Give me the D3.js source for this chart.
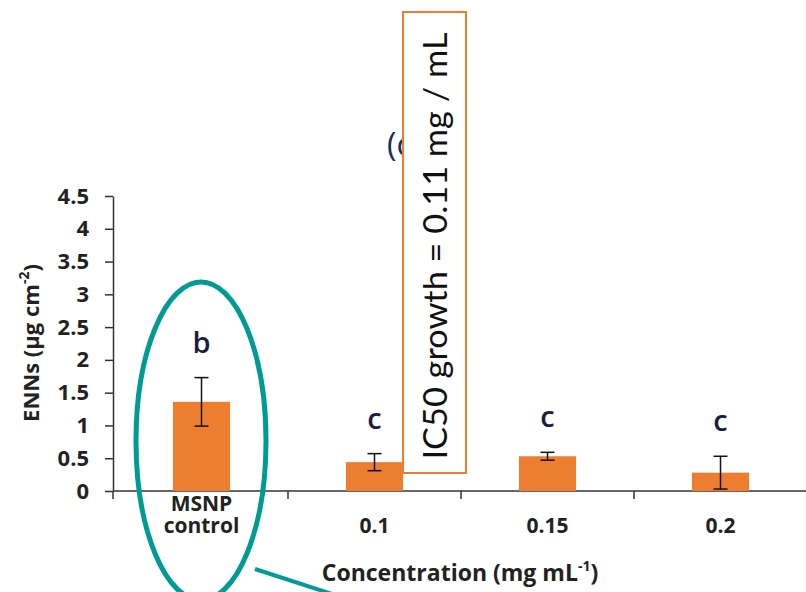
<!DOCTYPE html>
<html>
<head>
<meta charset="utf-8">
<script src="https://cdn.jsdelivr.net/npm/d3@7"></script>
<style>
  body { margin: 0; background: #fff; }
  svg { display: block; font-family: "Open Sans", Lato, sans-serif; }
</style>
</head>
<body>
<div id="chart"></div>
<script>
var categories = ["MSNP control", "0.1", "0.15", "0.2"],
    values = [1.36, 0.44, 0.53, 0.28],
    errors = [0.37, 0.13, 0.06, 0.25],
    letters = ["b", "c", "c", "c"],
    yTicks = [0, 0.5, 1, 1.5, 2, 2.5, 3, 3.5, 4, 4.5];

var width = 806, height = 592;

var svg = d3.select("#chart").append("svg")
    .attr("width", width)
    .attr("height", height);

var x = d3.scaleBand()
    .domain(categories)
    .range([115, 807]);

var y = d3.scaleLinear()
    .domain([0, 4.5])
    .range([491, 196]);

var barW = x.bandwidth() * 0.33;

function cx(i) { return x(categories[i]) + x.bandwidth() / 2; }

// y axis
var yAxis = svg.append("g")
    .attr("transform", "translate(113,0)")
    .call(d3.axisLeft(y).tickValues(yTicks).tickSizeInner(8).tickSizeOuter(0).tickPadding(16)
      .tickFormat(function(d) { return d; }));
yAxis.select(".domain").attr("stroke", "#333").attr("stroke-width", 1.5);
yAxis.selectAll(".tick line").attr("stroke", "#333").attr("stroke-width", 1.5);
yAxis.selectAll(".tick text")
    .attr("font-family", "Open Sans")
    .attr("font-weight", "bold")
    .attr("font-size", 22)
    .attr("fill", "#222");

// x axis
svg.append("line")
    .attr("x1", 113).attr("x2", 806)
    .attr("y1", y(0)).attr("y2", y(0))
    .attr("stroke", "#333").attr("stroke-width", 1.5);

svg.selectAll(".xtick")
    .data(categories)
  .enter().append("line")
    .attr("class", "xtick")
    .attr("x1", function(d) { return x(d) + x.bandwidth(); })
    .attr("x2", function(d) { return x(d) + x.bandwidth(); })
    .attr("y1", y(0)).attr("y2", y(0) + 8)
    .attr("stroke", "#333").attr("stroke-width", 1.5);

svg.append("line")
    .attr("x1", 113).attr("x2", 113)
    .attr("y1", y(0)).attr("y2", y(0) + 8)
    .attr("stroke", "#333").attr("stroke-width", 1.5);

// bars
svg.selectAll(".bar")
    .data(values)
  .enter().append("rect")
    .attr("class", "bar")
    .attr("x", function(d, i) { return cx(i) - barW / 2; })
    .attr("y", function(d) { return y(d); })
    .attr("width", barW)
    .attr("height", function(d) { return y(0) - y(d); })
    .attr("fill", "#ED7D31");

// error bars
var err = svg.selectAll(".err")
    .data(values)
  .enter().append("g")
    .attr("class", "err")
    .attr("stroke", "#111")
    .attr("stroke-width", 1.5);

err.append("line")
    .attr("x1", function(d, i) { return cx(i); })
    .attr("x2", function(d, i) { return cx(i); })
    .attr("y1", function(d, i) { return y(d + errors[i]); })
    .attr("y2", function(d, i) { return y(d - errors[i]); });
err.append("line")
    .attr("x1", function(d, i) { return cx(i) - 7; })
    .attr("x2", function(d, i) { return cx(i) + 7; })
    .attr("y1", function(d, i) { return y(d + errors[i]); })
    .attr("y2", function(d, i) { return y(d + errors[i]); });
err.append("line")
    .attr("x1", function(d, i) { return cx(i) - 7; })
    .attr("x2", function(d, i) { return cx(i) + 7; })
    .attr("y1", function(d, i) { return y(d - errors[i]); })
    .attr("y2", function(d, i) { return y(d - errors[i]); });

// significance letters
svg.selectAll(".letter")
    .data(letters)
  .enter().append("text")
    .attr("class", "letter")
    .attr("x", function(d, i) { return cx(i); })
    .attr("y", function(d, i) { return y(values[i] + errors[i]) - 25; })
    .attr("text-anchor", "middle")
    .attr("font-size", 29)
    .attr("font-weight", 600)
    .attr("fill", "#1c1c40")
    .text(function(d) { return d; });

// category labels (first one wraps onto two lines)
categories.forEach(function(d, i) {
  var parts = d.split(" ");
  var baseY = 533 - 22 * (parts.length - 1);
  parts.forEach(function(p, j) {
    svg.append("text")
        .attr("class", "xlab")
        .attr("x", cx(i))
        .attr("y", baseY + 22 * j)
        .attr("text-anchor", "middle")
        .attr("font-size", 21)
        .attr("font-weight", "bold")
        .attr("fill", "#222")
        .text(p);
  });
});

// axis titles
var xt = svg.append("text")
    .attr("x", 460).attr("y", 581)
    .attr("text-anchor", "middle")
    .attr("font-size", 23)
    .attr("font-weight", "bold")
    .attr("fill", "#222");
xt.append("tspan").text("Concentration (mg mL");
xt.append("tspan").attr("dy", -10).attr("font-size", 14).text("-1");
xt.append("tspan").attr("dy", 10).text(")");

var yt = svg.append("text")
    .attr("transform", "translate(39,343) rotate(-90)")
    .attr("text-anchor", "middle")
    .attr("font-size", 22)
    .attr("font-weight", "bold")
    .attr("fill", "#222");
yt.append("tspan").text("ENNs (µg cm");
yt.append("tspan").attr("dy", -10).attr("font-size", 14).text("-2");
yt.append("tspan").attr("dy", 10).text(")");

// panel title, mostly hidden by the text box
svg.append("text")
    .attr("x", 387).attr("y", 156)
    .attr("font-size", 32)
    .attr("fill", "#1c2a5a")
    .text("(c)");

// IC50 text box
svg.append("rect")
    .attr("x", 403).attr("y", 12)
    .attr("width", 63).attr("height", 461)
    .attr("fill", "#fff")
    .attr("stroke", "#ED7D31")
    .attr("stroke-width", 2);

svg.append("text")
    .attr("transform", "translate(447,246) rotate(-90)")
    .attr("text-anchor", "middle")
    .attr("font-family", "Lato")
    .attr("font-size", 33)
    .attr("fill", "#111")
    .attr("textLength", 427)
    .attr("lengthAdjust", "spacingAndGlyphs")
    .text("IC50 growth = 0.11 mg / mL");

// highlight ellipse and pointer line
svg.append("ellipse")
    .attr("cx", 201).attr("cy", 441)
    .attr("rx", 65).attr("ry", 159)
    .attr("fill", "none")
    .attr("stroke", "#009B95")
    .attr("stroke-width", 5);

svg.append("line")
    .attr("x1", 255).attr("y1", 569)
    .attr("x2", 332).attr("y2", 594)
    .attr("stroke", "#009B95")
    .attr("stroke-width", 4);
</script>
</body>
</html>
